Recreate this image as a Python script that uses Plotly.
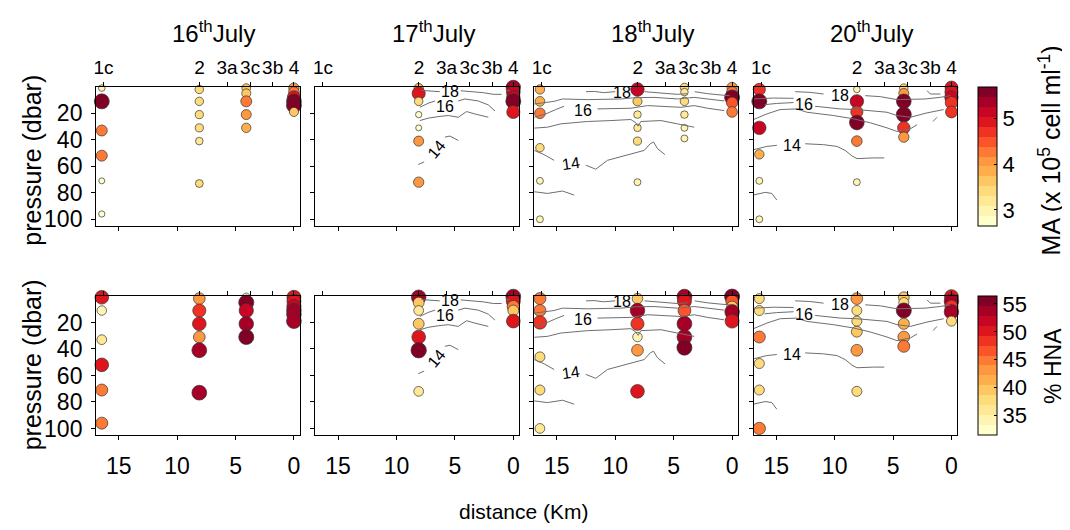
import plotly.graph_objects as go
import plotly.colors as pc

# ---------------- data ----------------
station_names = ["1c", "2", "3a", "3c", "3b", "4"]
station_label_km = [16.3, 8.08, 5.72, 3.75, 1.82, 0.0]
cast_names = ["1c", "2", "3c", "4"]
cast_km = [16.45, 8.1, 4.08, 0.0]
distance_ticks = [15, 10, 5, 0]
pressure_ticks = [20, 40, 60, 80, 100]
ma_ticks = [3, 4, 5]
hna_ticks = [35, 40, 45, 50, 55]
day_titles = ["16<sup>th</sup>July", "17<sup>th</sup>July", "18<sup>th</sup>July", "20<sup>th</sup>July"]

jul16_station = ["1c", "1c", "1c", "1c", "1c", "1c", "2", "2", "2", "2", "2", "2",
                 "3c", "3c", "3c", "3c", "3c", "4", "4", "4", "4", "4", "4"]
jul16_dbar = [1, 11, 33, 52, 71, 96, 2, 11, 21, 31, 41, 73, 1, 5, 11, 21, 31, 1, 4, 8, 11, 14, 19]
jul16_ma = [2.9, 5.6, 4.3, 4.3, 2.7, 2.8, 3.5, 3.5, 3.4, 3.4, 3.2, 3.3,
            3.6, 3.7, 4.3, 4.0, 3.8, 4.1, 4.2, 5.0, 5.5, 5.6, 3.7]
jul16_hna = [50, 35, 36, 50, 44, 44, 43, 48, 50, 43, 54, 54,
             31, 55, 52, 53, 55, 51, 51, 52, 53, 53, 54]

jul17_station = ["2", "2", "2", "2", "2", "2", "2", "4", "4", "4", "4", "4"]
jul17_dbar = [1, 5, 11, 21, 31, 41, 72, 0.5, 4, 8, 11, 19]
jul17_ma = [3.8, 5.0, 3.5, 2.8, 2.7, 4.0, 4.1, 5.4, 5.2, 5.1, 5.6, 5.0]
jul17_hna = [53, 40, 36, 40, 50, 56, 36, 54, 51, 45, 40, 50]

jul18_station = ["1c", "1c", "1c", "1c", "1c", "1c", "2", "2", "2", "2", "2", "2",
                 "3c", "3c", "3c", "3c", "3c", "3c", "4", "4", "4", "4", "4"]
jul18_dbar = [2, 11, 20, 46, 71, 100, 2, 11, 21, 31, 41, 72, 0.5, 4, 11, 21, 31, 39, 0.5, 4, 8, 12, 19]
jul18_ma = [3.8, 3.9, 4.2, 3.5, 3.0, 3.0, 5.1, 3.7, 3.2, 3.2, 3.4, 3.0,
            3.5, 3.2, 3.5, 3.2, 3.0, 3.0, 4.1, 4.3, 5.6, 4.4, 4.2]
jul18_hna = [44, 44, 49, 37, 37, 36, 39, 53, 48, 35, 43, 50,
             54, 51, 47, 54, 54, 55, 55, 46, 40, 53, 51]

jul20_station = ["1c", "1c", "1c", "1c", "1c", "1c", "2", "2", "2", "2", "2", "2",
                 "3c", "3c", "3c", "3c", "3c", "3c", "4", "4", "4", "4", "4"]
jul20_dbar = [2, 11, 31, 51, 71, 100, 2, 11, 19, 27, 41, 72, 1, 5, 11, 21, 31, 38, 0.5, 4, 8, 12, 19]
jul20_ma = [4.7, 5.6, 5.1, 3.8, 3.0, 3.0, 2.9, 5.1, 4.7, 5.5, 4.2, 3.0,
            3.5, 4.0, 5.5, 5.6, 4.8, 4.1, 4.9, 5.0, 5.1, 4.8, 4.6]
jul20_hna = [37, 37, 44, 37, 37, 45, 43, 37, 37, 40, 43, 37,
             40, 37, 55, 41, 43, 44, 51, 53, 48, 53, 37]

# temperature contour traces (km, dbar), segments separated by None
temp17_km = [7.86, 7.0, 6.3, None, 4.5, 3.29, 2.57, 1.71, 1.0, None, 0.66, 0.29, None,
             8.0, 7.29, 6.7, None, 4.71, 4.14, 3.0, 2.14, 1.57, None,
             8.0, 7.29, 6.43, 5.57, 4.71, 4.29, 4.0, 3.29, 2.14, None,
             8.14, 7.63, None, 5.86, 5.43, 4.71]
temp17_dbar = [2.7, 3.2, 3.7, None, 3.0, 3.7, 4.45, 5.7, 5.7, None, 2.2, 3.2, None,
               15.45, 12.45, 10.7, None, 10.7, 9.2, 10.7, 13.7, 18.2, None,
               25.5, 23.7, 22.5, 21.7, 23.0, 20.5, 18.7, 20.5, 23.0, None,
               58.7, 56.7, None, 38, 37.2, 40.5]
temp17_labels = ["18", "16", "14"]
temp17_label_km = [5.43, 5.86, 6.57]
temp17_label_dbar = [3.4, 14.8, 47.5]
temp17_label_angle = [0, 0, -50]

temp18_km = [12.5, 11.8, 11.0, 10.0, None, 7.5, 6.1, 4.7, 3.8, None, 3.2, 2.1, 0.95, 0.2, None,
             16.95, 15.24, 14.52, 12.38, 9.52, 8.24, 6.67, 4.67, 3.24, 2.09, 0.67, None,
             16.95, 15.95, 15.1, 14.38, None,
             11.52, 8.67, 7.24, 5.81, 4.38, 3.24, 2.09, 0.67, None,
             16.95, 15.81, 14.67, 12.38, 10.38, 8.67, 8.24, 8.04, 7.81, 6.09, 4.67, 3.24, None,
             16.95, 16.1, 15.24, None,
             12.52, 11.67, 10.67, 8.95, 7.52, 7.01, 6.72, 6.38, 5.75, None,
             16.95, 15.81, 14.52, 13.52]
temp18_dbar = [3.7, 3.5, 4.4, 3.7, None, 3.7, 4.7, 5.7, 5.2, None, 3.7, 5.2, 6.2, 6.7, None,
               13.0, 11.0, 9.2, 9.7, 9.2, 8.2, 8.0, 9.2, 8.0, 9.2, 10.7, None,
               23.0, 20.5, 17.2, 14.7, None,
               16.7, 16.2, 14.2, 14.7, 15.5, 14.2, 16.2, 18.0, None,
               31.2, 30.5, 28.0, 26.2, 25.5, 24.7, 27.2, 29.7, 26.2, 25.5, 28.0, 30.5, None,
               48.0, 51.2, 55.5, None,
               59.2, 62.2, 55.5, 51.7, 48.0, 43.0, 41.7, 46.7, 51.2, None,
               79.2, 80.5, 78.7, 81.7]
temp18_labels = ["18", "16", "14"]
temp18_label_km = [9.4, 12.8, 13.8]
temp18_label_dbar = [4.2, 18.0, 58.0]
temp18_label_angle = [0, 0, -8]

temp20_km = [13.38, 12.1, 10.95, None, 7.38, 6.09, 4.67, 3.24, 2.24, 0.95, 0.1, None,
             2.09, 1.81, 0.95, None,
             16.95, 15.24, 13.52, None,
             16.0, 15.0, 13.52, None,
             11.67, 9.52, 8.09, 6.67, 5.52, 4.67, 3.52, 2.09, 0.67, None,
             16.95, 15.81, 14.67, 13.24, 12.38, 10.1, 8.38, 6.95, 5.52, 4.67, 3.52, 2.95, None,
             16.95, 15.81, 14.95, None,
             12.52, 10.95, 9.81, 9.1, 8.52, 8.09, 6.67, 5.75, None,
             16.95, 15.95, 15.38, 14.95, None,
             1.58, 1.24]
temp20_dbar = [3.7, 4.2, 5.45, None, 6.7, 7.45, 9.7, 9.2, 9.2, 7.95, 6.7, None,
               2.95, 5.45, 5.45, None,
               9.2, 8.5, 8.7, None,
               13.5, 12.6, 11.9, None,
               14.7, 16.7, 17.2, 18.0, 19.2, 21.7, 23.0, 19.7, 17.2, None,
               24.7, 20.5, 17.2, 16.7, 19.2, 21.7, 24.2, 27.2, 31.0, 33.7, 31.7, 28.7, None,
               47.5, 45.0, 44.2, None,
               43.0, 43.7, 45.0, 48.0, 52.2, 54.2, 53.7, 53.7, None,
               81.7, 79.7, 80.5, 85.5, None,
               26.2, 23.0]
temp20_labels = ["18", "16", "14"]
temp20_label_km = [9.58, 12.66, 13.67]
temp20_label_dbar = [6.7, 13.7, 44.2]
temp20_label_angle = [0, 0, 0]

# ---------------- figure ----------------
OFF = 8  # page body margin in the browser
W, H = 1070 - OFF, 530 - OFF
panel_left = [93.3 - OFF, 313.3 - OFF, 532.7 - OFF, 752.7 - OFF]
panel_w = 204.4
row_top = [87.7 - OFF, 299.3 - OFF]
row_h = 141.0
x_range = [16.94, -0.51]
y_range = [105.2, 0]
MA_RANGE = [2.65, 5.68]
HNA_RANGE = [31.5, 56.4]

n_bands = 14
band_cols = pc.sample_colorscale("YlOrRd", [i / (n_bands - 1) for i in range(n_bands)])
cscale = []
for i, c in enumerate(band_cols):
    cscale.append([i / n_bands, c])
    cscale.append([(i + 1) / n_bands, c])

days = [
    (jul16_station, jul16_dbar, jul16_ma, jul16_hna, None),
    (jul17_station, jul17_dbar, jul17_ma, jul17_hna,
     (temp17_km, temp17_dbar, temp17_labels, temp17_label_km, temp17_label_dbar, temp17_label_angle)),
    (jul18_station, jul18_dbar, jul18_ma, jul18_hna,
     (temp18_km, temp18_dbar, temp18_labels, temp18_label_km, temp18_label_dbar, temp18_label_angle)),
    (jul20_station, jul20_dbar, jul20_ma, jul20_hna,
     (temp20_km, temp20_dbar, temp20_labels, temp20_label_km, temp20_label_dbar, temp20_label_angle)),
]


def ax_id(prefix, i):
    return prefix if i == 1 else f"{prefix}{i}"


def ma_size(v):
    return 6 + (v - 2.7) * 3.1


def hna_size(v):
    return 8.5 + (v - 31.5) * 0.28


FONT = "Liberation Sans, Arial, sans-serif"
fig = go.Figure()
annotations = []
layout = dict(
    width=W, height=H, margin=dict(l=0, r=0, t=0, b=0),
    paper_bgcolor="white", plot_bgcolor="white", showlegend=False,
    font=dict(family=FONT, color="black", size=18),
)

for r in range(2):
    for k in range(4):
        i = r * 4 + k + 1
        j = 8 + i
        xa, ya, xt = ax_id("x", i), ax_id("y", i), f"x{j}"
        xd = [panel_left[k] / W, (panel_left[k] + panel_w) / W]
        yd = [1 - (row_top[r] + row_h) / H, 1 - row_top[r] / H]
        layout[ax_id("xaxis", i)] = dict(
            domain=xd, anchor=ya, range=x_range, tickvals=distance_ticks,
            showticklabels=(r == 1), ticks="outside", ticklen=4, tickcolor="black",
            showline=True, linecolor="black", linewidth=1, mirror=True, tickangle=0,
            ticklabelstandoff=6,
            showgrid=False, zeroline=False, tickfont=dict(size=23))
        layout[ax_id("yaxis", i)] = dict(
            domain=yd, anchor=xa, range=y_range, tickvals=pressure_ticks,
            showticklabels=(k == 0), ticks="outside", ticklen=4, tickcolor="black",
            showline=True, linecolor="black", linewidth=1, mirror=True,
            ticklabelstandoff=4,
            showgrid=False, zeroline=False, tickfont=dict(size=23))
        layout[f"xaxis{j}"] = dict(
            overlaying=xa, anchor=ya, side="top", range=x_range, tickangle=0,
            tickvals=station_label_km,
            ticktext=station_names if r == 0 else [""] * len(station_names),
            ticks="outside", ticklen=4, tickcolor="black", showline=False,
            showgrid=False, zeroline=False, tickfont=dict(size=19))
        # invisible helper so the top axis is drawn
        fig.add_trace(go.Scatter(x=station_label_km, y=[None] * len(station_label_km),
                                 xaxis=xt, yaxis=ya, mode="markers", hoverinfo="skip",
                                 showlegend=False))

        stations, dbar, ma, hna, temp = days[k]
        km = [cast_km[cast_names.index(s)] for s in stations]
        vals = ma if r == 0 else hna
        sizes = [ma_size(v) if r == 0 else hna_size(v) for v in vals]
        fig.add_trace(go.Scatter(
            x=km, y=dbar, xaxis=xa, yaxis=ya, mode="markers", cliponaxis=False,
            marker=dict(size=sizes, color=vals, coloraxis="coloraxis" if r == 0 else "coloraxis2",
                        line=dict(color="#333333", width=0.7), opacity=1),
            showlegend=False))
        if temp is not None:
            tkm, tdb, labs, lkm, ldb, lang = temp
            fig.add_trace(go.Scatter(x=tkm, y=tdb, xaxis=xa, yaxis=ya, mode="lines",
                                     line=dict(color="#6e6e6e", width=1), connectgaps=False,
                                     hoverinfo="skip", showlegend=False))
            for t, lx, ly, la in zip(labs, lkm, ldb, lang):
                annotations.append(dict(x=lx, y=ly, xref=xa, yref=ya, text=t, showarrow=False,
                                        xanchor="center", yanchor="middle",
                                        textangle=la, font=dict(size=16, color="black")))

# day titles
for k in range(4):
    cx = panel_left[k] + panel_w / 2 + 16
    annotations.append(dict(x=cx / W, y=1 - (32 - OFF) / H, xref="paper", yref="paper",
                            xanchor="center", yanchor="middle",
                            text=day_titles[k], showarrow=False, font=dict(size=24)))
# axis titles
for cy in (161.5, 368.5):
    annotations.append(dict(x=(29 - OFF) / W, y=1 - (cy - OFF) / H, xref="paper", yref="paper",
                            xanchor="center", yanchor="middle",
                            text="pressure (dbar)", textangle=-90, showarrow=False,
                            font=dict(size=25)))
annotations.append(dict(x=(522 - OFF) / W, y=1 - (517 - OFF) / H, xref="paper", yref="paper",
                        xanchor="center", yanchor="middle",
                        text="distance (Km)", showarrow=False, font=dict(size=21)))
# colour bar titles
annotations.append(dict(x=(1050 - OFF) / W, y=1 - (152 - OFF) / H,
                        xref="paper", yref="paper", xanchor="center", yanchor="middle",
                        text="MA (x 10<sup>5</sup> cell ml<sup>-1</sup>)", textangle=-90,
                        showarrow=False, font=dict(size=25)))
annotations.append(dict(x=(1053 - OFF) / W, y=1 - (370 - OFF) / H,
                        xref="paper", yref="paper", xanchor="center", yanchor="middle",
                        text="% HNA", textangle=-90, showarrow=False, font=dict(size=23)))

cb_common = dict(x=(978 - OFF) / W, xanchor="left", xpad=0, ypad=0, thickness=19,
                 thicknessmode="pixels", lenmode="fraction", yanchor="middle",
                 outlinecolor="black", outlinewidth=1,
                 ticks="inside", ticklen=3, tickcolor="black", tickfont=dict(size=22))
layout["coloraxis"] = dict(
    colorscale=cscale, cmin=MA_RANGE[0], cmax=MA_RANGE[1],
    colorbar=dict(**cb_common, len=row_h / H, y=1 - (row_top[0] + row_h / 2) / H,
                  tickvals=ma_ticks))
layout["coloraxis2"] = dict(
    colorscale=cscale, cmin=HNA_RANGE[0], cmax=HNA_RANGE[1],
    colorbar=dict(**cb_common, len=row_h / H, y=1 - (row_top[1] + row_h / 2) / H,
                  tickvals=hna_ticks))
layout["annotations"] = annotations
fig.update_layout(**layout)
fig.write_html("out.html")
